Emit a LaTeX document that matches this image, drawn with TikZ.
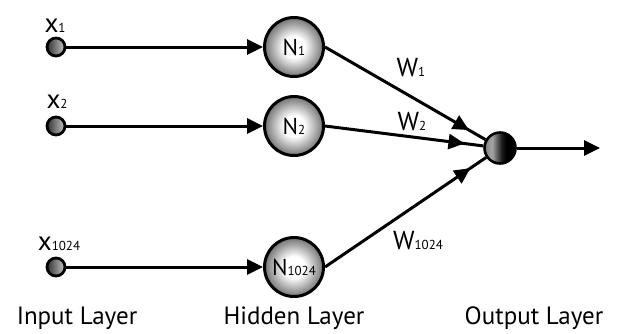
\documentclass[tikz,border=0pt]{standalone}
\usepackage{fontspec}
\setmainfont{PT Sans}
\usetikzlibrary{arrows.meta,decorations.markings}

% small baseline-aligned index digits
\newcommand\lsub[1]{{\fontsize{13}{13}\selectfont #1}}

\pgfdeclarehorizontalshading{inshade}{100bp}{color(0bp)=(black!80); color(25bp)=(black!80); color(75bp)=(black!22); color(100bp)=(black!22)}
\pgfdeclarehorizontalshading{outshade}{100bp}{color(0bp)=(black!50); color(25bp)=(black!50); color(37bp)=(black!35); color(53bp)=(black!90); color(60bp)=(black); color(100bp)=(black)}
\pgfdeclareradialshading{hidshade}{\pgfpoint{0bp}{0bp}}{color(0bp)=(white); color(9bp)=(white); color(25bp)=(black!55); color(50bp)=(black!55)}

\begin{document}
\begin{tikzpicture}[x=1pt,y=-1pt,
  inp/.style={circle, draw=black, line width=2.8pt, minimum size=18pt, inner sep=0pt, shading=inshade},
  hid/.style={circle, draw=black, line width=3pt, minimum size=59pt, inner sep=0pt, shading=hidshade,
              font=\fontsize{23}{23}\selectfont},
  outn/.style={circle, draw=black, line width=2.6pt, minimum size=31pt, inner sep=0pt, shading=outshade},
  lbl/.style={inner sep=0pt, font=\fontsize{27}{27}\selectfont},
  wlbl/.style={inner sep=0pt, font=\fontsize{26}{26}\selectfont},
  layer/.style={inner sep=0pt, font=\fontsize{25}{25}\selectfont},
  feed/.style={line width=3pt, -{Triangle[length=16pt,width=15pt]}},
  weight/.style={line width=3pt, postaction={decorate},
    decoration={markings, mark=at position -19pt with {\arrow{Triangle[length=16pt,width=15pt]}}}}
]
\useasboundingbox (0,0) rectangle (617,333);

% input layer
\node[inp] (i1) at (56,47) {};
\node[inp] (i2) at (56,126) {};
\node[inp] (i3) at (56,267) {};
\node[lbl] (lx1) at (55,26) {x\lsub{1}};
\node[lbl] (lx2) at (57,102) {x\lsub{2}};
\node[lbl] (lx3) at (59,244) {x\lsub{1024}};

% hidden layer
\node[hid] (h1) at (294,47) {N\lsub{1}};
\node[hid] (h2) at (294,126) {N\lsub{2}};
\node[hid] (h3) at (294,267) {N\lsub{1024}};

% output
\node[outn] (o) at (500,148) {};
\coordinate (y) at (600,148);

% connections
\draw[feed] (i1) -- (h1);
\draw[feed] (i2) -- (h2);
\draw[feed] (i3) -- (h3);
\draw[weight] (h1.east) -- (o);
\draw[weight] (h2.east) -- (o);
\draw[weight] (h3.east) -- (o);
\draw[feed] (o) -- (y);

% weight labels
\node[wlbl] (w1) at (411,68) {W\lsub{1}};
\node[wlbl] (w2) at (412,122) {W\lsub{2}};
\node[wlbl] (w3) at (418,241) {W\lsub{1024}};

% layer captions
\node[layer] (c1) at (77,318) {Input Layer};
\node[layer] (c2) at (294,318) {Hidden Layer};
\node[layer] (c3) at (534,318) {Output Layer};
\end{tikzpicture}
\end{document}
